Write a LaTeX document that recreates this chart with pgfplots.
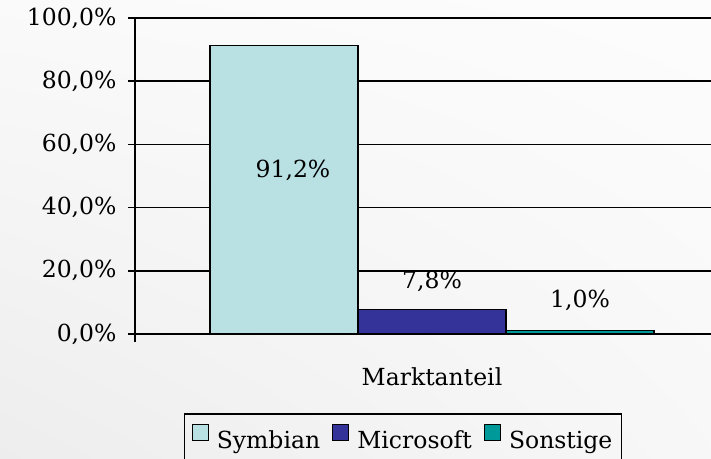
\documentclass[border=0pt]{standalone}
\usepackage{fontspec}
\setmainfont{DejaVu Serif}
\usepackage{pgfplots}
\pgfplotsset{compat=1.18}
\usetikzlibrary{shadings}
\definecolor{symb}{HTML}{B9E0E3}
\definecolor{micro}{HTML}{333399}
\definecolor{sonst}{HTML}{009999}
\begin{document}
\begin{tikzpicture}
\useasboundingbox (0,0) rectangle (711bp,459bp);
\clip (0,0) rectangle (711bp,459bp);
\shade[lower left=black!7, upper left=black!2, lower right=black!3, upper right=black!1] (0,0) rectangle (711bp,459bp);
\begin{axis}[
  at={(135bp,125bp)}, anchor=south west,
  scale only axis, width=594bp, height=316bp,
  xmin=-297, xmax=297, ymin=0, ymax=100,
  clip mode=individual,
  axis line style={black, line width=1.6bp},
  ymajorgrids, grid style={black, line width=1.6bp},
  ytick={0,20,40,60,80,100},
  tick align=outside, major tick length=7bp, tick pos=left,
  every tick/.style={black, line width=1.6bp},
  /pgf/number format/assume math mode=true,
  yticklabel={\pgfmathprintnumber[fixed,fixed zerofill,precision=1,use comma]{\tick}\%},
  yticklabel style={font=\fontsize{23.5bp}{28bp}\selectfont, anchor=east, xshift=-8bp},
  xtick=\empty,
  extra x ticks={-297}, extra x tick labels={},
  extra x tick style={major tick length=8bp, tick pos=left},
  ybar, bar width=148, bar shift=0,
  nodes near coords={\pgfmathprintnumber[fixed,fixed zerofill,precision=1,use comma]{\pgfplotspointmeta}\%},
  nodes near coords style={font=\fontsize{23.5bp}{28bp}\selectfont, anchor=base, black},
  legend columns=-1,
  legend style={at={(0.4512,0)}, anchor=north, yshift=-79bp, draw=black, line width=1.6bp, fill=none,
    font=\fontsize{23.5bp}{28bp}\selectfont, inner xsep=7bp, inner ysep=10bp,
    /tikz/every odd column/.append style={column sep=6bp},
    /tikz/every even column/.append style={column sep=10bp}},
  legend image code/.code={\draw[#1, draw=black, line width=1.2bp] (0bp,0bp) rectangle (16bp,16bp);},
]
\addplot[fill=symb, draw=black, line width=1.2bp, nodes near coords style={yshift=-132bp, xshift=9bp}] coordinates {(-148,91.2)};
\addplot[fill=micro, draw=black, line width=1.2bp, nodes near coords style={yshift=21bp}] coordinates {(0,7.8)};
\addplot[fill=sonst, draw=black, line width=1.2bp, nodes near coords style={yshift=23bp}] coordinates {(148,1.0)};
\legend{Symbian, Microsoft, Sonstige}
\node[anchor=base, font=\fontsize{23.5bp}{28bp}\selectfont] at (axis cs:0,0) [yshift=-51bp] {Marktanteil};
\end{axis}
\end{tikzpicture}
\end{document}
